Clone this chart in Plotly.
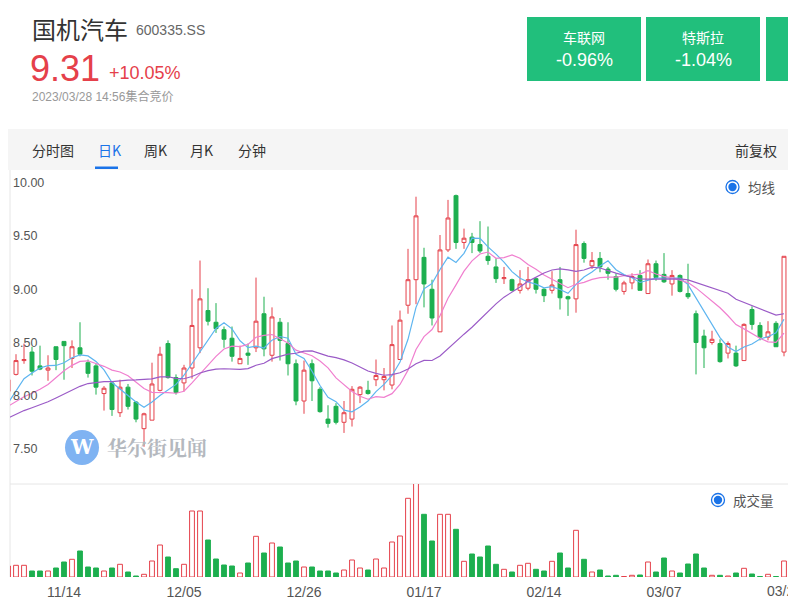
import plotly.graph_objects as go
import pandas as pd

W, H = 788, 615

# ---------------- data ----------------
dates = [
    "11/03", "11/04", "11/07", "11/08", "11/09", "11/10", "11/11", "11/14", "11/15", "11/16",
    "11/17", "11/18", "11/21", "11/22", "11/23", "11/24", "11/25", "11/28", "11/29", "11/30",
    "12/01", "12/02", "12/05", "12/06", "12/07", "12/08", "12/09", "12/12", "12/13", "12/14",
    "12/15", "12/16", "12/19", "12/20", "12/21", "12/22", "12/23", "12/26", "12/27", "12/28",
    "12/29", "12/30", "01/03", "01/04", "01/05", "01/06", "01/09", "01/10", "01/11", "01/12",
    "01/13", "01/16", "01/17", "01/18", "01/19", "01/20", "01/30", "01/31", "02/01", "02/02",
    "02/03", "02/06", "02/07", "02/08", "02/09", "02/10", "02/13", "02/14", "02/15", "02/16",
    "02/17", "02/20", "02/21", "02/22", "02/23", "02/24", "02/27", "02/28", "03/01", "03/02",
    "03/03", "03/06", "03/07", "03/08", "03/09", "03/10", "03/13", "03/14", "03/15", "03/16",
    "03/17", "03/20", "03/21", "03/22", "03/23", "03/24", "03/27", "03/28",
]

opens = [
    8.04, 8.20, 8.33, 8.41, 8.28, 8.24, 8.46, 8.51, 8.35, 8.45,
    8.31, 8.28, 8.02, 8.12, 7.84, 8.08, 7.94, 7.69, 7.77, 8.05,
    8.49, 8.17, 8.12, 8.26, 8.45, 8.80, 8.69, 8.62, 8.54, 8.30,
    8.40, 8.45, 8.77, 8.38, 8.69, 8.49, 8.30, 7.95, 8.30, 8.06,
    7.78, 7.90, 7.75, 7.78, 8.01, 8.05, 8.15, 8.15, 8.10, 8.34,
    8.85, 9.09, 9.30, 9.00, 8.60, 9.37, 9.88, 9.44, 9.49, 9.42,
    9.31, 9.21, 9.10, 9.09, 8.99, 9.01, 9.10, 9.00, 8.99, 9.09,
    8.93, 8.91, 9.43, 9.22, 9.29, 9.19, 9.12, 8.98, 9.06, 9.13,
    8.96, 9.24, 9.14, 9.05, 9.13, 8.96, 8.77, 8.56, 8.50, 8.49,
    8.40, 8.40, 8.33, 8.81, 8.66, 8.55, 8.68, 8.41,
]
highs = [
    8.17, 8.39, 8.49, 8.46, 8.47, 8.38, 8.46, 8.51, 8.52, 8.69,
    8.34, 8.30, 8.09, 8.13, 8.15, 8.11, 7.95, 7.84, 8.31, 8.46,
    8.52, 8.20, 8.29, 9.00, 9.27, 9.01, 8.87, 8.65, 8.65, 8.47,
    8.49, 9.11, 8.93, 8.83, 8.73, 8.69, 8.34, 8.33, 8.34, 8.08,
    7.91, 7.93, 7.95, 8.09, 8.09, 8.14, 8.34, 8.26, 8.66, 8.80,
    9.38, 9.87, 9.39, 9.09, 9.51, 9.84, 9.89, 9.57, 9.53, 9.64,
    9.59, 9.29, 9.21, 9.10, 9.18, 9.21, 9.11, 9.01, 9.17, 9.21,
    8.94, 9.56, 9.45, 9.35, 9.35, 9.21, 9.15, 9.08, 9.15, 9.18,
    9.28, 9.27, 9.34, 9.18, 9.14, 9.24, 8.80, 8.62, 8.61, 8.53,
    8.51, 8.47, 8.68, 8.84, 8.69, 8.70, 8.70, 9.31,
]
lows = [
    8.02, 8.19, 8.30, 8.19, 8.24, 8.14, 8.24, 8.15, 8.26, 8.37,
    8.17, 8.01, 7.86, 7.81, 7.80, 7.87, 7.75, 7.52, 7.77, 8.04,
    8.16, 8.01, 8.04, 8.16, 8.40, 8.66, 8.59, 8.45, 8.32, 8.30,
    8.29, 8.41, 8.37, 8.32, 8.33, 8.19, 7.91, 7.83, 7.95, 7.84,
    7.70, 7.73, 7.65, 7.71, 7.93, 8.01, 8.09, 8.05, 8.06, 8.34,
    8.77, 8.86, 8.83, 8.66, 8.60, 9.35, 9.38, 9.38, 9.34, 9.34,
    9.23, 9.06, 9.05, 8.98, 8.96, 8.99, 8.96, 8.88, 8.96, 8.81,
    8.75, 8.78, 9.25, 9.19, 9.16, 9.09, 8.98, 8.95, 9.00, 8.99,
    8.96, 9.08, 9.06, 8.94, 8.97, 8.91, 8.20, 8.26, 8.48, 8.31,
    8.35, 8.27, 8.33, 8.62, 8.52, 8.52, 8.46, 8.37,
]
closes = [
    8.15, 8.33, 8.34, 8.23, 8.25, 8.26, 8.34, 8.47, 8.46, 8.39,
    8.21, 8.08, 8.07, 7.87, 8.08, 7.90, 7.78, 7.83, 8.11, 8.39,
    8.17, 8.03, 8.26, 8.66, 8.91, 8.70, 8.63, 8.53, 8.37, 8.35,
    8.38, 8.70, 8.44, 8.74, 8.52, 8.30, 7.95, 8.24, 8.14, 7.85,
    7.74, 7.75, 7.84, 8.06, 8.08, 8.02, 8.19, 8.18, 8.48, 8.71,
    9.09, 9.69, 9.05, 8.73, 9.37, 9.67, 9.44, 9.48, 9.44, 9.36,
    9.27, 9.10, 9.11, 8.99, 9.05, 9.09, 9.00, 8.94, 9.04, 8.92,
    8.91, 9.42, 9.29, 9.27, 9.21, 9.15, 9.00, 9.06, 9.12, 8.99,
    9.24, 9.11, 9.07, 9.13, 8.98, 8.93, 8.50, 8.45, 8.53, 8.32,
    8.49, 8.28, 8.67, 8.67, 8.55, 8.60, 8.46, 9.31,
]
# closes of the 19 sessions before the visible window (only feed the moving averages)
prior_closes = [
    7.62, 7.65, 7.70, 7.73, 7.66, 7.64, 7.70, 7.72, 7.69, 7.69,
    7.85, 7.92, 7.90, 7.88, 7.80, 7.74, 7.78, 7.96, 8.02,
]
volumes = [
    11, 11.7, 11.7, 6, 6, 6, 9, 15, 17.7, 26,
    10, 9, 6, 9, 12.7, 5, 1, 2.7, 16, 32,
    20, 8.3, 12.7, 66, 66, 37, 18, 12, 11, 4,
    14, 40.7, 24, 34, 30, 14, 16, 10, 10, 6,
    6, 4, 7, 17, 9, 7, 18, 9, 35, 41,
    78.7, 95, 62.7, 36, 62.7, 62.7, 47.7, 15.7, 23, 20,
    31, 12.7, 7.7, 5, 11.7, 13.7, 7.7, 6, 15.7, 24,
    9, 46.7, 17.7, 5, 7, 1, 1.7, 0.5, 1.7, 2,
    15, 5, 19, 6, 4, 13, 23, 9, 1.7, 1.7,
    1, 4, 8.7, 3, 0.5, 2.7, 0.5, 16,
]
ma_periods = [5, 10, 20]
price_ticks = [7.5, 8.0, 8.5, 9.0, 9.5, 10.0]
x_tick_labels = ["11/14", "12/05", "12/26", "01/17", "02/14", "03/07", "03/28"]

stock_name = "国机汽车"
stock_code = "600335.SS"
last_price = "9.31"
change_pct = "+10.05%"
quote_time = "2023/03/28 14:56集合竞价"
sectors = ["车联网", "特斯拉", ""]
sector_changes = ["-0.96%", "-1.04%", ""]
tabs = ["分时图", "日K", "周K", "月K", "分钟"]

# ---------------- style ----------------
RED = "#e5404a"
GREEN = "#1daf4f"
MA_COLORS = ["#5eb5f0", "#f07fcf", "#9b5bc7"]
BOX_GREEN = "#21bf7c"
ACCENT = "#1a73e8"
FONT = "Liberation Sans, Noto Sans CJK SC, sans-serif"
CJK = "Noto Sans CJK SC, sans-serif"


def px(x):
    return x / W


def py(y):
    return 1 - y / H


n = len(dates)
xs = list(range(n))
tick_idx = [dates.index(d) for d in x_tick_labels]
X0, X1 = 0.25, 97.5  # visible index window

series = pd.Series(prior_closes + closes, dtype=float)
off = len(prior_closes)

fig = go.Figure()

fig.add_trace(go.Candlestick(
    x=xs, open=opens, high=highs, low=lows, close=closes,
    increasing=dict(line=dict(color=RED, width=1), fillcolor="#ffffff"),
    decreasing=dict(line=dict(color=GREEN, width=1), fillcolor=GREEN),
    whiskerwidth=0, xaxis="x", yaxis="y", showlegend=False, hoverinfo="skip",
))

for p, col in zip(ma_periods, MA_COLORS):
    ma = series.rolling(p).mean().iloc[off:].tolist()
    fig.add_trace(go.Scatter(
        x=xs, y=ma, mode="lines", line=dict(color=col, width=1.2),
        xaxis="x", yaxis="y", showlegend=False, hoverinfo="skip",
    ))

up = [c >= o for o, c in zip(opens, closes)]
fig.add_trace(go.Bar(
    x=xs, y=volumes, width=0.6,
    marker=dict(color=["#ffffff" if u else GREEN for u in up],
                line=dict(color=[RED if u else GREEN for u in up], width=1)),
    xaxis="x2", yaxis="y2", showlegend=False, hoverinfo="skip",
))

# axis tick labels that fit inside the page are drawn by the axis; the last one sits on the
# page edge (partly cut off in the original) and is drawn as an annotation at the same place
inner_ticks = [i for i in tick_idx if i < n - 1]
edge_ticks = [i for i in tick_idx if i == n - 1]

xdom = [px(10), 1]
fig.update_layout(
    width=W, height=H,
    margin=dict(l=0, r=0, t=0, b=0),
    paper_bgcolor="#ffffff", plot_bgcolor="rgba(0,0,0,0)",
    font=dict(family=FONT, color="#333"),
    xaxis=dict(domain=xdom, range=[X0, X1], showticklabels=False, showgrid=False,
               zeroline=False, showline=False, rangeslider=dict(visible=False), anchor="y"),
    yaxis=dict(domain=[py(484), py(170)], range=[7.170, 10.121], tickvals=price_ticks,
               ticktext=[f"{v:.2f}" for v in price_ticks], ticklabelposition="inside",
               tickfont=dict(size=12.5, color="#555"), showgrid=False, zeroline=False,
               showline=False, ticks="", anchor="x"),
    xaxis2=dict(domain=xdom, range=[X0, X1], matches="x", tickvals=[xs[i] for i in inner_ticks],
                ticktext=[dates[i] for i in inner_ticks], tickfont=dict(size=14, color="#555"),
                showgrid=False, zeroline=False, showline=False, ticks="", anchor="y2",
                ticklabelstandoff=5),
    yaxis2=dict(domain=[py(577), py(484)], range=[0, 93], showticklabels=False, showgrid=False,
                zeroline=False, showline=False, ticks="", anchor="x2"),
    bargap=0.4,
)

shapes = []
annotations = []


def text(x, y, s, size, color, anchor="left", family=FONT):
    annotations.append(dict(x=px(x), y=py(y), xref="paper", yref="paper", text=s, showarrow=False,
                            xanchor=anchor, yanchor="middle",
                            font=dict(size=size, color=color, family=family)))


for i in edge_ticks:
    annotations.append(dict(x=xs[i], y=py(591), xref="x2", yref="paper", text=dates[i],
                            showarrow=False, xanchor="center", yanchor="middle",
                            font=dict(size=14, color="#555", family=FONT)))

# header
text(30, 29, stock_name, 24, "#333", family=CJK)
text(134, 30, stock_code, 14, "#666")
text(28, 68, last_price, 36, RED)
text(107, 73, change_pct, 18, RED)
text(30, 96, quote_time, 12, "#999")

box_x = [527, 646, 766]
for bx, name, chg in zip(box_x, sectors, sector_changes):
    shapes.append(dict(type="rect", xref="paper", yref="paper", x0=px(bx), x1=min(1.0, px(bx + 114)),
                       y0=py(81), y1=py(17), fillcolor=BOX_GREEN, line=dict(width=0), layer="below"))
    if name:
        text(bx + 57, 37, name, 14, "#ffffff", anchor="center", family=CJK)
        text(bx + 57, 60, chg, 18, "#ffffff", anchor="center")

# tab bar
shapes.append(dict(type="rect", xref="paper", yref="paper", x0=px(8), x1=1.0, y0=py(170), y1=py(129),
                   fillcolor="#f5f5f5", line=dict(width=0), layer="below"))
tab_x = [30, 96, 142, 188, 236]
for tx, t in zip(tab_x, tabs):
    text(tx, 150, t, 14, ACCENT if t == "日K" else "#333", family=CJK)
shapes.append(dict(type="rect", xref="paper", yref="paper", x0=px(95), x1=px(118), y0=py(169),
                   y1=py(166.5), fillcolor=ACCENT, line=dict(width=0)))
text(779, 150, "前复权", 14, "#333", anchor="right", family=CJK)

# panel frame lines
shapes.append(dict(type="line", xref="paper", yref="paper", x0=px(10), x1=px(10), y0=py(577), y1=py(170),
                   line=dict(color="#e6e6e6", width=1), layer="below"))
shapes.append(dict(type="line", xref="paper", yref="paper", x0=px(10), x1=1.0, y0=py(484), y1=py(484),
                   line=dict(color="#e6e6e6", width=1), layer="below"))

# radio legends
for cx, cy, label in [(732.5, 187, "均线"), (718, 500, "成交量")]:
    shapes.append(dict(type="circle", xref="paper", yref="paper", x0=px(cx - 6.5), x1=px(cx + 6.5),
                       y0=py(cy + 6.5), y1=py(cy - 6.5), fillcolor="#ffffff",
                       line=dict(color=ACCENT, width=1.3)))
    shapes.append(dict(type="circle", xref="paper", yref="paper", x0=px(cx - 4.2), x1=px(cx + 4.2),
                       y0=py(cy + 4.2), y1=py(cy - 4.2), fillcolor=ACCENT, line=dict(width=0)))
    text(cx + 13, cy, label, 13.5, "#555", family=CJK)

# watermark
shapes.append(dict(type="circle", xref="paper", yref="paper", x0=px(65), x1=px(99), y0=py(465),
                   y1=py(430), fillcolor="#7fb3f2", line=dict(width=0), layer="below"))
text(82, 447, "<b>W</b>", 20, "#ffffff", anchor="center", family="DejaVu Serif")
text(105, 447, "<b>华尔街见闻</b>", 20, "#b4b8be", family="Noto Serif CJK SC, Noto Sans CJK SC")

fig.update_layout(shapes=shapes, annotations=annotations)
fig.write_html("out.html")
